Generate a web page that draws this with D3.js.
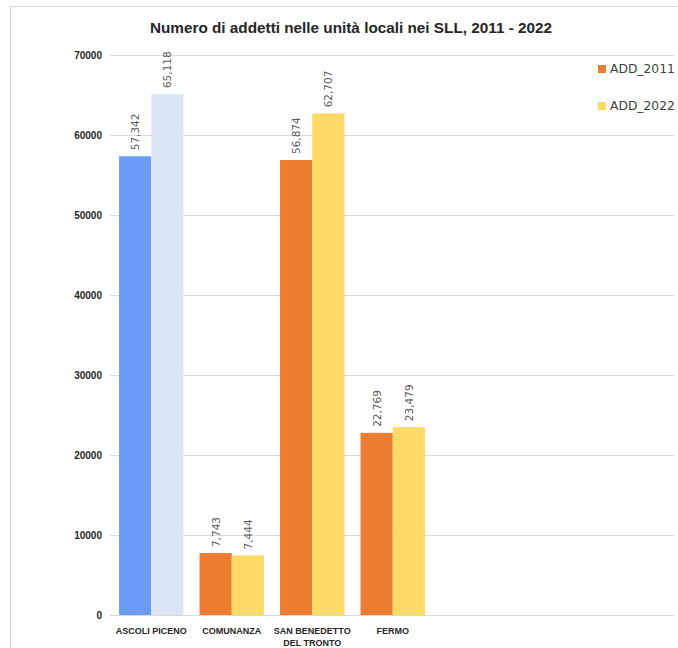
<!DOCTYPE html>
<html>
<head>
<meta charset="utf-8">
<script src="https://cdn.jsdelivr.net/npm/d3@7"></script>
<style>
  html, body { margin: 0; padding: 0; background: #fff; }
  svg { display: block; }
</style>
</head>
<body>
<svg id="chart" width="678" height="648"></svg>
<script>
const categories = ["ASCOLI PICENO", "COMUNANZA", "SAN BENEDETTO DEL TRONTO", "FERMO"];
const categoryLines = [["ASCOLI PICENO"], ["COMUNANZA"], ["SAN BENEDETTO", "DEL TRONTO"], ["FERMO"]];
const seriesNames = ["ADD_2011", "ADD_2022"];
const add2011 = [57342, 7743, 56874, 22769];
const add2022 = [65118, 7444, 62707, 23479];
const yTicks = [0, 10000, 20000, 30000, 40000, 50000, 60000, 70000];
const title = "Numero di addetti nelle unità locali nei SLL, 2011 - 2022";

const colors2011 = ["#6A9BF7", "#ED7D31", "#ED7D31", "#ED7D31"];
const colors2022 = ["#DAE6F4", "#FFD966", "#FFD966", "#FFD966"];
const legendColors = ["#ED7D31", "#FFD966"];

const svg = d3.select("#chart");

// frame (left and top edges visible)
svg.append("line").attr("x1", 10.5).attr("x2", 10.5).attr("y1", 6).attr("y2", 648)
  .attr("stroke", "#d9d9d9");
svg.append("line").attr("x1", 10).attr("x2", 678).attr("y1", 6.5).attr("y2", 6.5)
  .attr("stroke", "#d9d9d9");

const y = d3.scaleLinear().domain([0, 70000]).range([615, 55]);
const x = d3.scaleBand().domain(categories).range([111, 433]).paddingInner(0.2).paddingOuter(0.1);
const xs = d3.scaleBand().domain(seriesNames).range([0, x.bandwidth()]);

// gridlines
svg.append("g").selectAll("line").data(yTicks).join("line")
  .attr("x1", 110).attr("x2", 674)
  .attr("y1", d => Math.round(y(d)) + 0.5).attr("y2", d => Math.round(y(d)) + 0.5)
  .attr("stroke", "#d9d9d9").attr("stroke-width", 1);

// y tick labels
svg.append("g").selectAll("text").data(yTicks).join("text")
  .attr("x", 102).attr("y", d => y(d)).attr("dy", "0.35em")
  .attr("text-anchor", "end")
  .attr("font-family", "Liberation Sans, Arial, sans-serif")
  .attr("font-weight", "bold").attr("font-size", 10).attr("fill", "#262626")
  .text(d => d);

// bars
const rows = categories.map((c, i) => ({c, i, vals: [add2011[i], add2022[i]]}));
const bars = svg.append("g");
rows.forEach(r => {
  seriesNames.forEach((s, j) => {
    const v = r.vals[j];
    const bx = x(r.c) + xs(s);
    bars.append("rect")
      .attr("x", bx).attr("y", y(v))
      .attr("width", xs.bandwidth()).attr("height", y(0) - y(v))
      .attr("fill", j === 0 ? colors2011[r.i] : colors2022[r.i]);
    bars.append("text")
      .attr("transform", `translate(${bx + xs.bandwidth() / 2 + 4},${y(v) - 6}) rotate(-90)`)
      .attr("text-anchor", "start")
      .attr("font-family", "DejaVu Sans, sans-serif")
      .attr("font-size", 10.5).attr("fill", "#595959")
      .text(d3.format(",")(v));
  });
});

// x labels
const xl = svg.append("g");
categoryLines.forEach((lines, i) => {
  const cx = x(categories[i]) + x.bandwidth() / 2;
  lines.forEach((ln, k) => {
    xl.append("text")
      .attr("x", cx).attr("y", 634 + k * 12)
      .attr("text-anchor", "middle")
      .attr("font-family", "Liberation Sans, Arial, sans-serif")
      .attr("font-weight", "bold").attr("font-size", 9).attr("fill", "#262626")
      .text(ln);
  });
});

// title
svg.append("text")
  .attr("x", 351).attr("y", 33)
  .attr("text-anchor", "middle")
  .attr("font-family", "Liberation Sans, Arial, sans-serif")
  .attr("font-weight", "bold").attr("font-size", 15.3).attr("fill", "#262626")
  .text(title);

// legend
const lg = svg.append("g");
seriesNames.forEach((s, i) => {
  const ly = 69 + i * 37;
  lg.append("rect").attr("x", 598).attr("y", ly - 4).attr("width", 8).attr("height", 8)
    .attr("fill", legendColors[i]);
  lg.append("text").attr("x", 610).attr("y", ly).attr("dy", "0.35em")
    .attr("font-family", "DejaVu Sans, sans-serif")
    .attr("font-size", 12.3).attr("fill", "#404040")
    .text(s);
});
</script>
</body>
</html>
